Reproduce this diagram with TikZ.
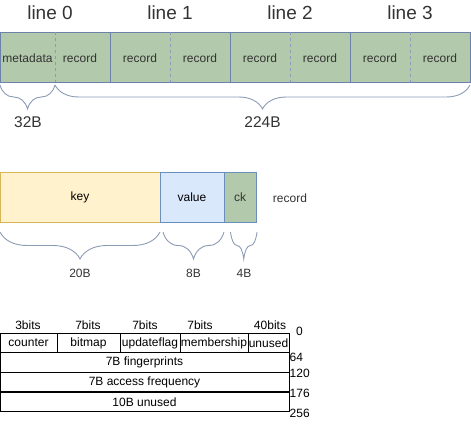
\documentclass[tikz,border=0pt]{standalone}
\usepackage{fontspec}
\setmainfont{Liberation Sans}
\usetikzlibrary{decorations.pathreplacing}
\definecolor{recgreen}{RGB}{179,201,171}
\definecolor{recedge}{RGB}{108,130,170}
\definecolor{keyfill}{RGB}{255,242,204}
\definecolor{keyedge}{RGB}{214,182,86}
\definecolor{valfill}{RGB}{218,232,252}
\definecolor{valedge}{RGB}{108,142,191}
\definecolor{bracegray}{RGB}{140,155,180}
\definecolor{txtgray}{RGB}{51,51,51}
\tikzset{
  linebox/.style = {draw=recedge, fill=recgreen, line width=0.9pt, minimum height=50pt, inner sep=0pt},
  fieldbox/.style = {draw, line width=0.9pt, minimum height=50pt, inner sep=0pt},
  cellbox/.style = {draw, line width=0.8pt, minimum height=19.5pt, inner sep=0pt, font=\fontsize{12}{13}\selectfont},
  lbl/.style = {text=txtgray, font=\fontsize{12}{13}\selectfont, inner sep=0pt},
  size/.style = {text=txtgray, font=\fontsize{15.5}{17}\selectfont, inner sep=0pt},
  title/.style = {text=txtgray, font=\fontsize{19}{22}\selectfont, inner sep=0pt},
  bitlbl/.style = {font=\fontsize{12}{13}\selectfont, inner sep=0pt},
  curly/.style = {draw=bracegray, line width=0.9pt, decorate, decoration={brace, mirror, amplitude=#1}},
}
\begin{document}
\begin{tikzpicture}[x=1pt, y=-1pt]
\useasboundingbox (0,0) rectangle (471,423);
% cache lines
\node[linebox, minimum width=110pt] (l0) at (55,57) {};
\node[linebox, minimum width=120pt] (l1) at (170,57) {};
\node[linebox, minimum width=120pt] (l2) at (290,57) {};
\node[linebox, minimum width=120pt] (l3) at (410,57) {};
\foreach \i in {0,...,3}
  \draw[recedge!80, dashed, line width=0.9pt] (l\i.north) -- (l\i.south);
\node[title] at (50,13) {line 0};
\node[title] at (170,13) {line 1};
\node[title] at (290,13) {line 2};
\node[title] at (410,13) {line 3};
\node[lbl] (meta) at (27.5,58) {metadata};
\foreach \x in {80,140,200,260,320,380,440}
  \node[lbl] at (\x,58) {record};
\coordinate (b0) at (0,85);
\coordinate (b1) at (55,85);
\coordinate (b2) at (470,85);
\draw[curly=24pt] (b0) -- (b1);
\draw[curly=24pt] (b1) -- (b2);
\node[size] at (28,122) {32B};
\node[size] at (262.5,122) {224B};
% one record
\node[fieldbox, draw=keyedge, fill=keyfill, minimum width=160pt] (key) at (80,197) {};
\node[fieldbox, draw=valedge, fill=valfill, minimum width=64pt] (val) at (192,197) {};
\node[fieldbox, draw=valedge, fill=recgreen, minimum width=32pt] (ck) at (240,197) {};
\node[lbl, text=black] at (key) {key};
\node[lbl, text=black] at (val) {value};
\node[lbl] at (ck) {ck};
\node[lbl] at (290,198) {record};
\coordinate (k0) at (0,232);
\coordinate (k1) at (160,232);
\coordinate (v0) at (163,232);
\coordinate (v1) at (224,232);
\coordinate (c0) at (230.5,232);
\coordinate (c1) at (257,232);
\draw[curly=27pt] (k0) -- (k1);
\draw[curly=27pt] (v0) -- (v1);
\draw[curly=27pt] (c0) -- (c1);
\node[lbl] at (80,273) {20B};
\node[lbl] at (193.5,273) {8B};
\node[lbl] at (244,273) {4B};
% metadata layout
\node[cellbox, minimum width=57pt] (cnt) at (28.5,343) {counter};
\node[cellbox, minimum width=63pt] (bmp) at (88.5,343) {bitmap};
\node[cellbox, minimum width=60pt] (upd) at (150,343) {updateflag};
\node[cellbox, minimum width=68pt] (mem) at (214,343) {membership};
\node[cellbox, minimum width=41pt] (unu) at (268.5,343) {unused};
\node[cellbox, minimum width=289pt] (fp) at (144.5,362.5) {7B fingerprints};
\node[cellbox, minimum width=289pt] (acc) at (144.5,382) {7B access frequency};
\node[cellbox, minimum width=289pt] (pad) at (144.5,402) {10B unused};
\node[bitlbl] at (28,325) {3bits};
\node[bitlbl] at (88,325) {7bits};
\node[bitlbl] at (145,325) {7bits};
\node[bitlbl] at (200,325) {7bits};
\node[bitlbl] at (270,325) {40bits};
\node[bitlbl, anchor=west] at (296,331) {0};
\node[bitlbl, anchor=west] at (289.5,357) {64};
\node[bitlbl, anchor=west] at (289.5,373) {120};
\node[bitlbl, anchor=west] at (289.5,393) {176};
\node[bitlbl, anchor=west] at (289.5,413) {256};
\end{tikzpicture}
\end{document}
